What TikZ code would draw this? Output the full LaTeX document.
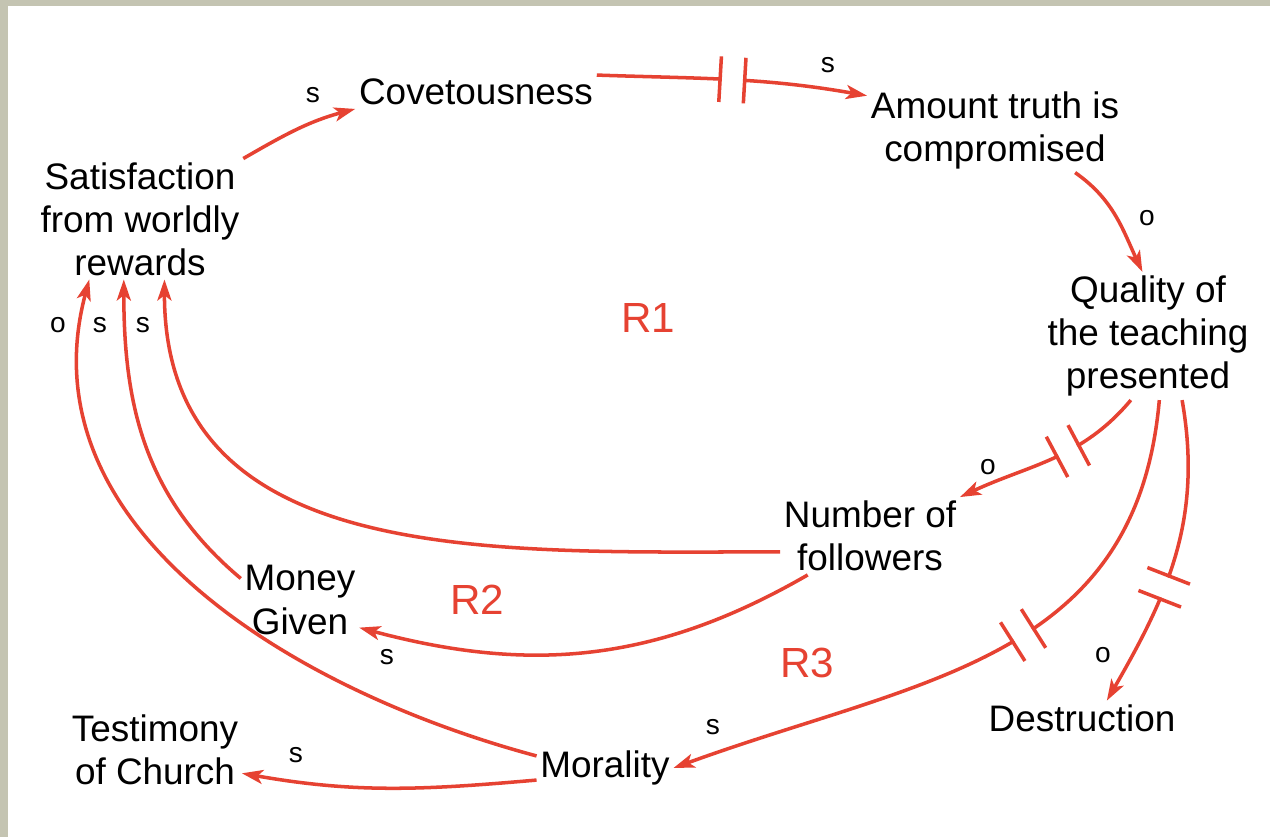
\documentclass[tikz,border=0pt]{standalone}
\usepackage{fontspec}
\setmainfont{Liberation Sans}
\usetikzlibrary{arrows.meta,decorations.markings}
\definecolor{loopred}{RGB}{230,66,50}
\definecolor{frame}{RGB}{196,196,178}

\begin{document}
\begin{tikzpicture}[x=0.02cm, y=0.02cm,
	main/.style={align=center, inner sep=2pt, font=\fontsize{21}{24.5}\selectfont},
	sign/.style={font=\fontsize{16}{18}\selectfont},
	loopname/.style={text=loopred, font=\fontsize{24}{28}\selectfont},
	link/.style={draw=loopred, line width=2pt, -{Stealth[length=12pt,width=8pt,inset=3pt]}},
	delaymark/.style={postaction={decorate, decoration={markings, mark=at position #1 with {
		\fill[white] (-6pt,-3pt) rectangle (6pt,3pt);
		\draw[loopred, line width=2pt, -] (-7pt,-13pt) -- (-7pt,13pt) (7pt,-13pt) -- (7pt,13pt);}}}}]
	\fill[frame] (0,0) rectangle (1270,-837);
	\fill[white] (8,-6) rectangle (1270,-837);
	\useasboundingbox (0,0) rectangle (1270,-837);

	\node[main] (cov) at (476,-92) {Covetousness};
	\node[main] (amt) at (995,-130) {Amount truth is\\compromised};
	\node[main] (qual) at (1148,-336) {Quality of\\the teaching\\presented};
	\node[main] (sat) at (140,-219) {Satisfaction\\from worldly\\rewards};
	\node[main] (num) at (870,-536) {Number of\\followers};
	\node[main] (money) at (300,-600) {Money\\Given};
	\node[main] (test) at (155,-750) {Testimony\\of Church};
	\node[main] (mor) at (605,-768) {Morality};
	\node[main] (des) at (1082,-718) {Destruction};

	\node[loopname] (r1) at (648,-318) {R1};
	\node[loopname] (r2) at (477,-600) {R2};
	\node[loopname] (r3) at (807,-663) {R3};

	% polarities
	\node[sign] (s1) at (313,-95) {s};
	\node[sign] (s2) at (828,-65) {s};
	\node[sign] (s3) at (1147,-218) {o};
	\node[sign] (s4) at (988,-467) {o};
	\node[sign] (s5) at (1103,-655) {o};
	\node[sign] (s6) at (713,-727) {s};
	\node[sign] (s7) at (387,-657) {s};
	\node[sign] (s8) at (296,-755) {s};
	\node[sign] (s9) at (58,-325) {o};
	\node[sign] (s10) at (100,-325) {s};
	\node[sign] (s11) at (143,-325) {s};

	\draw[link] (sat.north east) to[out=30, in=195] (cov.south west);
	\draw[link, delaymark=0.5] (cov.north east) to[out=-2, in=170] (amt.165);
	\draw[link] (amt.-28) to[out=-35, in=115] (qual.95);
	\draw[link, delaymark=0.41] (qual.-105) to[out=-130, in=25] (num.north east);
	\draw[link, delaymark=0.43] (qual.-80) to[out=-95, in=20, looseness=1.1] (mor.east);
	\draw[link, delaymark=0.6] (qual.-62) to[out=-80, in=60] (des.35);
	\draw[link] (num.-170) to[out=180, in=-90, looseness=1.1] (sat.-68);
	\draw[link] (num.-148) to[out=-150, in=-15] (money.-25);
	\draw[link] (money.160) to[out=140, in=-90] (sat.-105);
	\draw[link] (mor.170) to[out=165, in=-105] (sat.-130);
	\draw[link] (mor.190) to[out=-175, in=-10] (test.-15);
\end{tikzpicture}
\end{document}
